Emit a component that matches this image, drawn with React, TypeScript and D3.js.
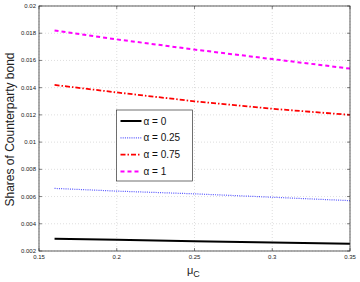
import React from "react";
import * as d3 from "d3";

const muC = [0.16, 0.2, 0.25, 0.3, 0.35];
const alpha0 = [0.0029, 0.00282, 0.00272, 0.00262, 0.00253];
const alpha025 = [0.0066, 0.0064, 0.0062, 0.00595, 0.0057];
const alpha075 = [0.0142, 0.01365, 0.0130, 0.01245, 0.012];
const alpha1 = [0.0182, 0.01755, 0.0168, 0.0161, 0.0154];
const xTicks = [0.15, 0.2, 0.25, 0.3, 0.35];
const yTicks = [0.002, 0.004, 0.006, 0.008, 0.01, 0.012, 0.014, 0.016, 0.018, 0.02];
const seriesNames = ["α = 0", "α = 0.25", "α = 0.75", "α = 1"];

const series = [
  { name: seriesNames[0], values: alpha0, color: "#000000", dash: "", width: 2 },
  { name: seriesNames[1], values: alpha025, color: "#5555ff", dash: "1,1.2", width: 1.2 },
  { name: seriesNames[2], values: alpha075, color: "#ff0000", dash: "5,2,1.5,2", width: 1.8 },
  { name: seriesNames[3], values: alpha1, color: "#ff00ff", dash: "4,3", width: 2 },
];

export default function App() {
  const W = 360, H = 282;
  const L = 39, R = 350, T = 6, B = 251;
  const x = d3.scaleLinear().domain([0.15, 0.35]).range([L, R]);
  const y = d3.scaleLinear().domain([0.002, 0.02]).range([B, T]);
  const line = d3.line<number>().x((_, i) => x(muC[i])).y((d) => y(d));
  const fmt = (v: number) => String(+v.toFixed(3));
  const font = "Liberation Sans, Arial, sans-serif";
  const legX = 116.5, legY = 110, legW = 76, legH = 71;
  return (
    <svg width={W} height={H} style={{ position: "absolute", left: 0, top: 0 }}>
      <rect x={0} y={0} width={W} height={H} fill="#fff" />
      {xTicks.map((t) => (
        <line key={"gx" + t} x1={x(t)} x2={x(t)} y1={T} y2={B} stroke="#c8c8c8" strokeWidth={0.6} strokeDasharray="1,2" />
      ))}
      {yTicks.map((t) => (
        <line key={"gy" + t} x1={L} x2={R} y1={y(t)} y2={y(t)} stroke="#c8c8c8" strokeWidth={0.6} strokeDasharray="1,2" />
      ))}
      {series.map((s) => (
        <path key={s.name} d={line(s.values) || ""} fill="none" stroke={s.color} strokeWidth={s.width} strokeDasharray={s.dash} />
      ))}
      <rect x={L} y={T} width={R - L} height={B - T} fill="none" stroke="#333" strokeWidth={0.8} />
      {xTicks.map((t) => (
        <g key={"tx" + t}>
          <line x1={x(t)} x2={x(t)} y1={B} y2={B - 3} stroke="#333" strokeWidth={0.6} />
          <line x1={x(t)} x2={x(t)} y1={T} y2={T + 3} stroke="#333" strokeWidth={0.6} />
          <text x={x(t)} y={B + 8} fontSize={6} fontFamily={font} textAnchor="middle" fill="#222">{fmt(t)}</text>
        </g>
      ))}
      {yTicks.map((t) => (
        <g key={"ty" + t}>
          <line x1={L} x2={L + 3} y1={y(t)} y2={y(t)} stroke="#333" strokeWidth={0.6} />
          <line x1={R} x2={R - 3} y1={y(t)} y2={y(t)} stroke="#333" strokeWidth={0.6} />
          <text x={L - 3} y={y(t) + 2} fontSize={6} fontFamily={font} textAnchor="end" fill="#222">{fmt(t)}</text>
        </g>
      ))}
      <text x={187} y={274} fontSize={11} fontFamily={font} fill="#222">
        μ<tspan fontSize={9} dy={3}>C</tspan>
      </text>
      <text transform={`translate(14,${(T + B) / 2 + 1}) rotate(-90)`} fontSize={12} fontFamily={font} textAnchor="middle" fill="#222">
        Shares of Counterparty bond
      </text>
      <rect x={legX} y={legY} width={legW} height={legH} fill="#fff" stroke="#333" strokeWidth={0.7} />
      {series.map((s, i) => {
        const ly = legY + 11 + i * 16.8;
        return (
          <g key={"leg" + i}>
            <line x1={legX + 4} x2={legX + 25} y1={ly} y2={ly} stroke={s.color} strokeWidth={s.width} strokeDasharray={s.dash} />
            <text x={legX + 27} y={ly + 3.5} fontSize={10} fontFamily={font} fill="#111">{s.name}</text>
          </g>
        );
      })}
    </svg>
  );
}
